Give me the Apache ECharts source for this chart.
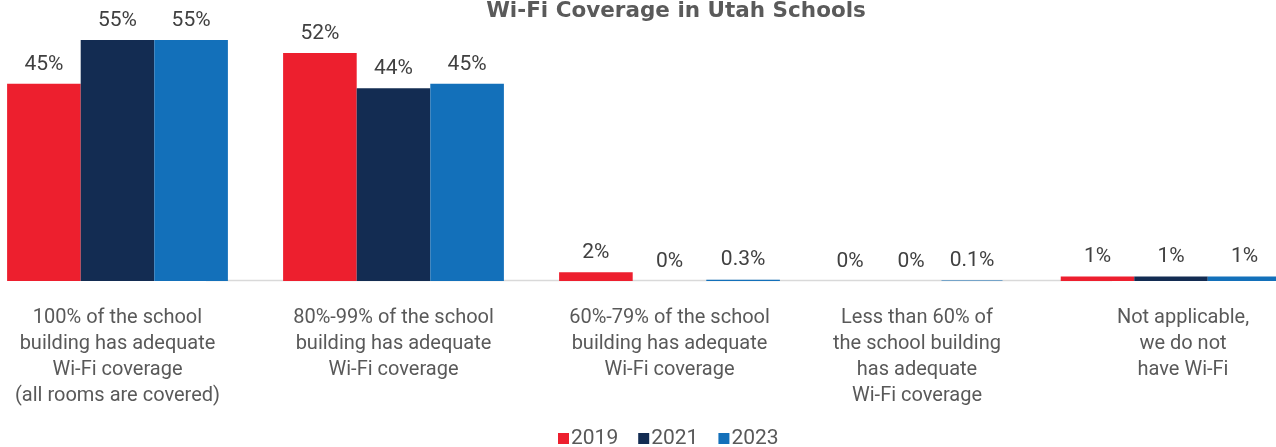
<!DOCTYPE html>
<html>
<head>
<meta charset="utf-8">
<script src="https://cdn.jsdelivr.net/npm/echarts@6/dist/echarts.min.js"></script>
<style>
html,body{margin:0;padding:0;background:#fff;}
#c{width:1276px;height:447px;}
</style>
</head>
<body>
<div id="c"></div>
<script>
const categories = [
  "100% of the school\nbuilding has adequate\nWi-Fi coverage\n(all rooms are covered)",
  "80%-99% of the school\nbuilding has adequate\nWi-Fi coverage",
  "60%-79% of the school\nbuilding has adequate\nWi-Fi coverage",
  "Less than 60% of\nthe school building\nhas adequate\nWi-Fi coverage",
  "Not applicable,\nwe do not\nhave Wi-Fi"
];
const seriesNames = ["2019", "2021", "2023"];
const values2019 = [45, 52, 2, 0, 1];
const values2021 = [55, 44, 0, 0, 1];
const values2023 = [55, 45, 0.3, 0.1, 1];
const titleText = "Wi-Fi Coverage in Utah Schools";

const colors = ["#ED1F2E", "#132C52", "#1370BA"];
const FONT = "'Roboto', sans-serif";

// category groups drawn in separate grids (the source layout is not evenly spaced)
const groups = [
  {from: 0, to: 3, grid: {left: -20.5, width: 828}, barWidth: null, labelShift: 0},
  {from: 3, to: 4, grid: {left: 773, width: 276}, barWidth: 61, labelShift: 12},
  {from: 4, to: 5, grid: {left: 1033, width: 276}, barWidth: 73.5, labelShift: 24}
];

const chart = echarts.init(document.getElementById('c'), null, {renderer: 'canvas'});
const allValues = [values2019, values2021, values2023];

const grids = [], xAxes = [], yAxes = [], series = [];
groups.forEach((g, gi) => {
  grids.push(Object.assign({top: 18, bottom: 166, outerBoundsMode: 'none', containLabel: false}, g.grid));
  xAxes.push({
    type: 'category',
    gridIndex: gi,
    data: categories.slice(g.from, g.to),
    axisLine: {show: false},
    axisTick: {show: false},
    axisLabel: {
      interval: 0,
      margin: 24,
      fontFamily: FONT,
      fontSize: 20,
      lineHeight: 26,
      color: '#595959',
      align: 'center',
      padding: [0, 0, 0, g.labelShift]
    }
  });
  yAxes.push({type: 'value', gridIndex: gi, min: 0, max: 60, show: false, splitLine: {show: false}});
  allValues.forEach((vals, i) => {
    const s = {
      name: seriesNames[i],
      type: 'bar',
      xAxisIndex: gi,
      yAxisIndex: gi,
      data: vals.slice(g.from, g.to),
      barGap: '0%',
      barCategoryGap: '20%',
      itemStyle: {color: colors[i]},
      label: {
        show: true,
        position: 'top',
        distance: 9,
        formatter: p => p.value + '%',
        fontFamily: FONT,
        fontSize: 21,
        color: '#404040'
      }
    };
    if (g.barWidth) s.barWidth = g.barWidth;
    series.push(s);
  });
});

chart.setOption({
  animation: false,
  title: {
    text: titleText,
    left: 671,
    textAlign: 'center',
    top: -5,
    textStyle: {fontFamily: "'DejaVu Sans', sans-serif", fontWeight: 'bold', fontSize: 21.5, color: '#5A5A5A'}
  },
  legend: {
    data: seriesNames,
    top: 423,
    left: 553,
    itemWidth: 11,
    itemHeight: 11,
    itemGap: 20,
    icon: 'rect',
    textStyle: {fontFamily: FONT, fontSize: 21, color: '#595959', padding: [0, 0, 0, -3]}
  },
  grid: grids,
  xAxis: xAxes,
  yAxis: yAxes,
  graphic: [{
    type: 'line',
    shape: {x1: 206, y1: 280.5, x2: 1112, y2: 280.5},
    style: {stroke: '#D9D9D9', lineWidth: 1.5},
    z: 0
  }],
  series: series
});
</script>
</body>
</html>
